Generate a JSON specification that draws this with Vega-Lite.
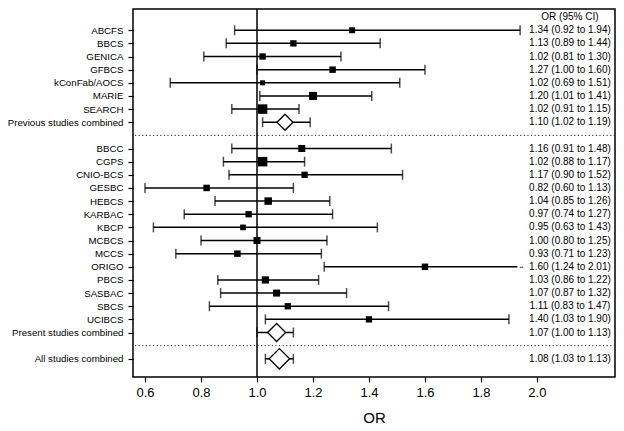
{
  "$schema": "https://vega.github.io/schema/vega-lite/v6.json",
  "width": 482,
  "height": 368,
  "padding": {"left": 7, "top": 8, "right": 5, "bottom": 5},
  "background": "white",
  "config": {
    "font": "Liberation Sans",
    "view": {"stroke": "black", "strokeWidth": 1.5},
    "axis": {"domain": false, "grid": false, "tickColor": "black", "labelColor": "black", "titleColor": "black", "tickWidth": 1.2}
  },
  "datasets": {
    "studies": [
      {"row": "ABCFS", "or": 1.34, "lo": 0.92, "hi": 1.94, "weight": 36, "kind": "study", "ci": "1.34 (0.92 to 1.94)"},
      {"row": "BBCS", "or": 1.13, "lo": 0.89, "hi": 1.44, "weight": 40, "kind": "study", "ci": "1.13 (0.89 to 1.44)"},
      {"row": "GENICA", "or": 1.02, "lo": 0.81, "hi": 1.30, "weight": 40, "kind": "study", "ci": "1.02 (0.81 to 1.30)"},
      {"row": "GFBCS", "or": 1.27, "lo": 1.00, "hi": 1.60, "weight": 42, "kind": "study", "ci": "1.27 (1.00 to 1.60)"},
      {"row": "kConFab/AOCS", "or": 1.02, "lo": 0.69, "hi": 1.51, "weight": 25, "kind": "study", "ci": "1.02 (0.69 to 1.51)"},
      {"row": "MARIE", "or": 1.20, "lo": 1.01, "hi": 1.41, "weight": 64, "kind": "study", "ci": "1.20 (1.01 to 1.41)"},
      {"row": "SEARCH", "or": 1.02, "lo": 0.91, "hi": 1.15, "weight": 90, "kind": "study", "ci": "1.02 (0.91 to 1.15)"},
      {"row": "Previous studies combined", "or": 1.10, "lo": 1.02, "hi": 1.19, "weight": 256, "kind": "combined", "ci": "1.10 (1.02 to 1.19)"},
      {"row": "BBCC", "or": 1.16, "lo": 0.91, "hi": 1.48, "weight": 49, "kind": "study", "ci": "1.16 (0.91 to 1.48)"},
      {"row": "CGPS", "or": 1.02, "lo": 0.88, "hi": 1.17, "weight": 90, "kind": "study", "ci": "1.02 (0.88 to 1.17)"},
      {"row": "CNIO-BCS", "or": 1.17, "lo": 0.90, "hi": 1.52, "weight": 40, "kind": "study", "ci": "1.17 (0.90 to 1.52)"},
      {"row": "GESBC", "or": 0.82, "lo": 0.60, "hi": 1.13, "weight": 42, "kind": "study", "ci": "0.82 (0.60 to 1.13)"},
      {"row": "HEBCS", "or": 1.04, "lo": 0.85, "hi": 1.26, "weight": 56, "kind": "study", "ci": "1.04 (0.85 to 1.26)"},
      {"row": "KARBAC", "or": 0.97, "lo": 0.74, "hi": 1.27, "weight": 40, "kind": "study", "ci": "0.97 (0.74 to 1.27)"},
      {"row": "KBCP", "or": 0.95, "lo": 0.63, "hi": 1.43, "weight": 32, "kind": "study", "ci": "0.95 (0.63 to 1.43)"},
      {"row": "MCBCS", "or": 1.00, "lo": 0.80, "hi": 1.25, "weight": 49, "kind": "study", "ci": "1.00 (0.80 to 1.25)"},
      {"row": "MCCS", "or": 0.93, "lo": 0.71, "hi": 1.23, "weight": 42, "kind": "study", "ci": "0.93 (0.71 to 1.23)"},
      {"row": "ORIGO", "or": 1.60, "lo": 1.24, "hi": 2.01, "weight": 42, "kind": "study", "ci": "1.60 (1.24 to 2.01)"},
      {"row": "PBCS", "or": 1.03, "lo": 0.86, "hi": 1.22, "weight": 52, "kind": "study", "ci": "1.03 (0.86 to 1.22)"},
      {"row": "SASBAC", "or": 1.07, "lo": 0.87, "hi": 1.32, "weight": 49, "kind": "study", "ci": "1.07 (0.87 to 1.32)"},
      {"row": "SBCS", "or": 1.11, "lo": 0.83, "hi": 1.47, "weight": 40, "kind": "study", "ci": "1.11 (0.83 to 1.47)"},
      {"row": "UCIBCS", "or": 1.40, "lo": 1.03, "hi": 1.90, "weight": 40, "kind": "study", "ci": "1.40 (1.03 to 1.90)"},
      {"row": "Present studies combined", "or": 1.07, "lo": 1.00, "hi": 1.13, "weight": 324, "kind": "combined", "ci": "1.07 (1.00 to 1.13)"},
      {"row": "All studies combined", "or": 1.08, "lo": 1.03, "hi": 1.13, "weight": 420, "kind": "combined", "ci": "1.08 (1.03 to 1.13)"}
    ]
  },
  "encoding": {
    "y": {
      "field": "row", "type": "nominal", "title": null,
      "scale": {
        "type": "point",
        "domain": ["hdr", "ABCFS", "BBCS", "GENICA", "GFBCS", "kConFab/AOCS", "MARIE", "SEARCH", "Previous studies combined", "sep1", "BBCC", "CGPS", "CNIO-BCS", "GESBC", "HEBCS", "KARBAC", "KBCP", "MCBCS", "MCCS", "ORIGO", "PBCS", "SASBAC", "SBCS", "UCIBCS", "Present studies combined", "sep2", "All studies combined"],
        "padding": 1.3,
        "align": 0.3077
      },
      "axis": {
        "values": ["ABCFS", "BBCS", "GENICA", "GFBCS", "kConFab/AOCS", "MARIE", "SEARCH", "Previous studies combined", "BBCC", "CGPS", "CNIO-BCS", "GESBC", "HEBCS", "KARBAC", "KBCP", "MCBCS", "MCCS", "ORIGO", "PBCS", "SASBAC", "SBCS", "UCIBCS", "Present studies combined", "All studies combined"],
        "labelFontSize": 9.7, "tickSize": 5, "labelPadding": 5
      }
    }
  },
  "layer": [
    {
      "data": {"values": [{"row": "sep1"}, {"row": "sep2"}]},
      "mark": {"type": "rule", "strokeDash": [1.2, 2.4], "strokeWidth": 1, "color": "#222"}
    },
    {
      "data": {"values": [{"ref": 1}]},
      "mark": {"type": "rule", "color": "black", "strokeWidth": 1.5},
      "encoding": {"x": {"field": "ref", "type": "quantitative"}, "y": null}
    },
    {
      "data": {"name": "studies"},
      "transform": [{"calculate": "datum.hi > 2 ? 1.93 : datum.hi", "as": "hi_drawn"}],
      "mark": {"type": "rule", "color": "black", "strokeWidth": 1.5},
      "encoding": {
        "x": {
          "field": "lo", "type": "quantitative",
          "scale": {"domain": [0.557, 2.279], "nice": false, "zero": false},
          "axis": {"values": [0.6, 0.8, 1.0, 1.2, 1.4, 1.6, 1.8, 2.0], "format": ".1f", "labelFontSize": 13, "tickSize": 5, "labelPadding": 4, "titleFontSize": 15, "titleFontWeight": "normal", "titlePadding": 11},
          "title": "OR"
        },
        "x2": {"field": "hi_drawn"}
      }
    },
    {
      "data": {"name": "studies"},
      "mark": {"type": "tick", "color": "black", "size": 10, "thickness": 1.5},
      "encoding": {"x": {"field": "lo", "type": "quantitative"}}
    },
    {
      "data": {"name": "studies"},
      "transform": [{"filter": "datum.hi <= 2"}],
      "mark": {"type": "tick", "color": "black", "size": 10, "thickness": 1.5},
      "encoding": {"x": {"field": "hi", "type": "quantitative"}}
    },
    {
      "data": {"name": "studies"},
      "transform": [{"filter": "datum.hi > 2"}],
      "mark": {"type": "text", "text": "••", "fontSize": 5, "color": "#333", "align": "center", "baseline": "middle"},
      "encoding": {"x": {"datum": 1.945, "type": "quantitative"}}
    },
    {
      "data": {"name": "studies"},
      "transform": [{"filter": "datum.kind === 'study'"}],
      "mark": {"type": "point", "shape": "square", "filled": true, "color": "black", "opacity": 1},
      "encoding": {
        "x": {"field": "or", "type": "quantitative"},
        "size": {"field": "weight", "type": "quantitative", "scale": {"domain": [0, 420], "range": [0, 420]}, "legend": null}
      }
    },
    {
      "data": {"name": "studies"},
      "transform": [{"filter": "datum.kind === 'combined'"}],
      "mark": {"type": "point", "shape": "diamond", "filled": true, "fill": "white", "stroke": "black", "strokeWidth": 1.3, "opacity": 1},
      "encoding": {
        "x": {"field": "or", "type": "quantitative"},
        "size": {"field": "weight", "type": "quantitative", "legend": null}
      }
    },
    {
      "data": {"name": "studies"},
      "mark": {"type": "text", "fontSize": 10, "align": "center", "baseline": "middle", "color": "black"},
      "encoding": {
        "x": {"datum": 2.118, "type": "quantitative"},
        "text": {"field": "ci"}
      }
    },
    {
      "data": {"values": [{"row": "hdr", "ci": "OR (95% CI)"}]},
      "mark": {"type": "text", "fontSize": 10, "align": "center", "baseline": "middle", "color": "black"},
      "encoding": {
        "x": {"datum": 2.118, "type": "quantitative"},
        "text": {"field": "ci"}
      }
    }
  ]
}
